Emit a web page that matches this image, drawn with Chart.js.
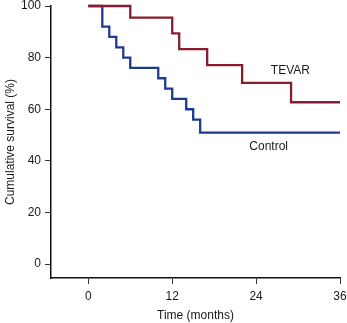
<!DOCTYPE html>
<html>
<head>
<meta charset="utf-8">
<script src="https://cdn.jsdelivr.net/npm/chart.js@4"></script>
<style>
  html, body { margin: 0; padding: 0; background: #fff; }
  #wrap { width: 347px; height: 323px; }
</style>
</head>
<body>
<div id="wrap"><canvas id="survivalChart" width="347" height="323"></canvas></div>
<script>
// Kaplan-Meier steps (months, % surviving)
const tevarTimes = [0, 6, 12, 13, 17, 22, 29, 36];
const tevarSurvival = [100, 95.5, 89.4, 83.3, 77.1, 70.2, 62.7, 62.7];
const controlTimes = [0, 2, 3, 4, 5, 6, 10, 11, 12, 14, 15, 16, 36];
const controlSurvival = [100, 92, 88, 84, 80, 76, 72, 68, 64, 60, 56, 50.9, 50.9];
const xTicks = [0, 12, 24, 36];
const yTicks = [0, 20, 40, 60, 80, 100];
const seriesNames = ['TEVAR', 'Control'];
const labelSpots = [[28.9, 75.1], [25.8, 45.4]]; // data coords of the curve names

const toPoints = (xs, ys) => xs.map((x, i) => ({ x, y: ys[i] }));

const font = { family: 'Liberation Sans, Arial, sans-serif', size: 12 };

const curveNames = {
  id: 'curveNames',
  afterDatasetsDraw(chart) {
    const { ctx, scales } = chart;
    ctx.save();
    ctx.fillStyle = '#1a1a1a';
    ctx.font = '12px Liberation Sans, Arial, sans-serif';
    ctx.textAlign = 'center';
    ctx.textBaseline = 'middle';
    seriesNames.forEach((name, i) => {
      ctx.fillText(name, scales.x.getPixelForValue(labelSpots[i][0]), scales.y.getPixelForValue(labelSpots[i][1]));
    });
    ctx.restore();
  },
};

const survivalChart = new Chart(document.querySelector('#survivalChart').getContext('2d'), {
  type: 'line',
  data: {
    datasets: [{
      label: seriesNames[0],
      data: toPoints(tevarTimes, tevarSurvival),
      borderColor: '#8b1c30',
      borderWidth: 2.3,
      stepped: true,
      pointRadius: 0,
      fill: false,
      clip: false,
    }, {
      label: seriesNames[1],
      data: toPoints(controlTimes, controlSurvival),
      borderColor: '#1f3a90',
      borderWidth: 2.3,
      stepped: true,
      pointRadius: 0,
      fill: false,
      clip: false,
    }],
  },
  options: {
    responsive: false,
    animation: false,
    layout: { padding: 0 },
    plugins: { legend: { display: false }, tooltip: { enabled: false } },
    scales: {
      x: {
        type: 'linear',
        min: -5.34,
        max: 36,
        afterBuildTicks: (scale) => { scale.ticks = xTicks.map((v) => ({ value: v })); },
        afterFit: (scale) => { scale.height = 45; scale.paddingRight = 7; scale.paddingLeft = 0; },
        grid: { drawOnChartArea: false, drawTicks: true, tickLength: 6, color: '#333', tickWidth: 1 },
        border: { color: '#111', width: 1.5 },
        ticks: { color: '#1a1a1a', font, padding: 5, maxRotation: 0 },
        title: { display: true, text: 'Time (months)', color: '#1a1a1a', font, padding: { top: 6, bottom: 0 } },
      },
      y: {
        min: -5.4,
        max: 100,
        afterBuildTicks: (scale) => { scale.ticks = yTicks.map((v) => ({ value: v })); },
        afterFit: (scale) => { scale.width = 51; scale.paddingTop = 6; scale.paddingBottom = 0; },
        grid: { drawOnChartArea: false, drawTicks: true, tickLength: 6, color: '#333', tickWidth: 1 },
        border: { color: '#111', width: 1.5 },
        ticks: { color: '#1a1a1a', font, padding: 4 },
        title: { display: true, text: 'Cumulative survival (%)', color: '#1a1a1a', font, padding: { top: 3, bottom: 4 } },
      },
    },
  },
  plugins: [curveNames],
});
</script>
</body>
</html>
